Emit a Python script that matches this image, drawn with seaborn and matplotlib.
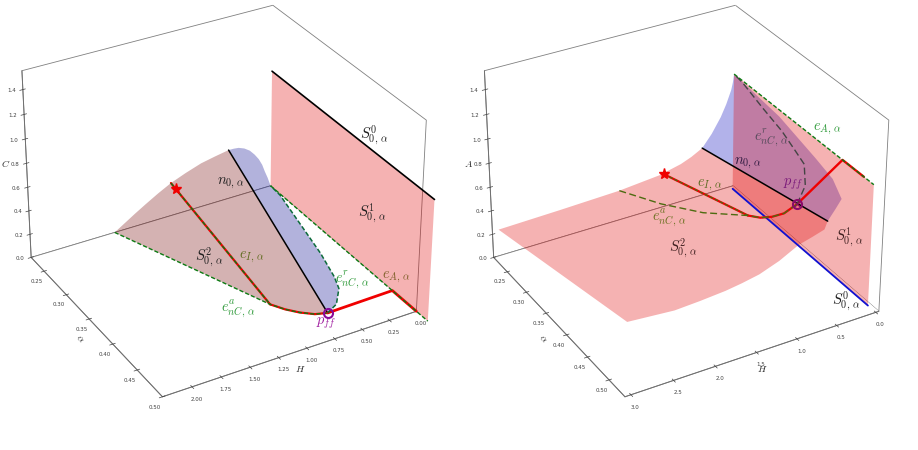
import matplotlib
matplotlib.use("Agg")
import matplotlib.pyplot as plt
from mpl_toolkits.mplot3d.art3d import Poly3DCollection
import numpy as np
import seaborn as sns

sns.set_theme(style="white")
plt.rcParams["mathtext.fontset"] = "cm"
plt.rcParams["axes.unicode_minus"] = False

# Limits and tick values of the two phase-space boxes
left_H_lim = (0.0, 2.25)
left_alpha_lim = (0.22, 0.50)
right_H_lim = (-0.04, 3.07)
right_alpha_lim = (0.214, 0.536)
vert_lim = (0.0, 1.55)
left_H_ticks = [0, 0.25, 0.5, 0.75, 1.0, 1.25, 1.5, 1.75, 2.0]
right_H_ticks = [0, 0.5, 1.0, 1.5, 2.0, 2.5, 3.0]
alpha_ticks = [0.25, 0.30, 0.35, 0.40, 0.45, 0.50]
vert_ticks = [0, 0.2, 0.4, 0.6, 0.8, 1.0, 1.2, 1.4]

alpha_lo = 0.22
alpha_hi = 0.52

# (H, alpha, C) curves of the critical manifold
l_top_H = [1.49, 1.40, 1.30, 1.196, 1.08, 0.96, 0.82, 0.674, 0.54, 0.412]
l_top_C = [0, 0.052, 0.11, 0.167, 0.228, 0.285, 0.335, 0.38, 0.405, 0.426]
l_fold_H = [0.412, 0.36, 0.315, 0.26, 0.207, 0.16, 0.119, 0.085, 0.059, 0.03, 0]
l_fold_C = [0.426, 0.425, 0.42, 0.40, 0.367, 0.32, 0.269, 0.21, 0.145, 0.08, 0]
l_ea_H = [1.49, 0.934, 0.869, 0.794, 0.704, 0.609]
l_ea_alpha = [0.22, 0.417, 0.432, 0.444, 0.454, 0.4585]
l_er_H = [0.609, 0.484, 0.348, 0.288, 0.199, 0.109, 0.01, 0]
l_er_alpha = [0.4585, 0.4496, 0.427, 0.406, 0.362, 0.305, 0.242, 0.22]
l_eI_H = [0.96, 0.934]
l_eI_alpha = [0.22, 0.417]
l_eI_C = [0.285, 0]
l_star = [0.956, 0.23, 0.27]
l_pff = [0.609, 0.4585, 0]
l_hit_alpha = 0.457
l_end_alpha = 0.50

# (H, alpha, A) curves of the critical manifold
r_top_H = [3.02, 2.26, 1.5, 0.976, 0.697, 0.56, 0.415]
r_top_A = [0.25, 0.263, 0.28, 0.312, 0.355, 0.39, 0.44]
r_low_H = [0.6, 0.75, 0.917, 1.15, 1.39, 1.6, 1.795, 2.1, 2.4, 2.95]
r_low_A = [0.76, 0.73, 0.70, 0.62, 0.562, 0.535, 0.516, 0.50, 0.49, 0.52]
r_n_end = [0.564, 0.52, 0.82]
r_blue_H = [0.415, 0.29, 0.171, 0.10, 0.036, 0.015, 0, 0.044, 0.113, 0.20, 0.40, 0.47, 0.564]
r_blue_alpha = [0.22, 0.22, 0.22, 0.22, 0.22, 0.22, 0.22, 0.33, 0.42, 0.47, 0.52, 0.52, 0.52]
r_blue_A = [0.44, 0.54, 0.663, 0.76, 0.87, 0.93, 1.0, 0.975, 0.92, 0.925, 0.965, 0.90, 0.82]
r_ea_H = [1.5, 1.307, 1.123, 0.937, 0.869, 0.794, 0.704, 0.56]
r_ea_alpha = [0.22, 0.285, 0.35, 0.417, 0.432, 0.444, 0.454, 0.457]
r_ea_A = [0.28, 0.339, 0.44, 0.60, 0.618, 0.65, 0.693, 0.75]
r_er_H = [0.56, 0.42, 0.33, 0.288, 0.199, 0.109, 0.01, 0]
r_er_alpha = [0.457, 0.45, 0.432, 0.406, 0.362, 0.305, 0.242, 0.22]
r_er_A = [0.75, 0.85, 0.95, 0.97, 0.98, 0.98, 0.99, 1.0]
r_eI_H = [0.97, 0.937]
r_eI_alpha = [0.23, 0.417]
r_eI_A = [0.35, 0.60]
r_pff = [0.56, 0.457, 0.75]

PINK = (225 / 255, 0, 0, 0.30)
BROWN = (115 / 255, 0, 0, 0.30)
BLUE_L = (0, 0, 140 / 255, 0.30)
BLUE_R = (0, 0, 188 / 255, 0.30)
RED = sns.color_palette(["#f00000"])[0]
GREEN = "#0c7a12"
W, H_PX = 918, 450
SIDE = 540
SHORT = (0, (3, 1.5))
LONG = (0, (5, 2.5))


def panel_rect(cx, cy):
    return [(cx - SIDE / 2) / W, 1 - (cy + SIDE / 2) / H_PX, SIDE / W, SIDE / H_PX]


def setup(rect, xlim, ylim, xticks, xfmt, zname):
    ax = fig.add_axes(rect, projection="3d")
    ax.computed_zorder = False
    ax.patch.set_alpha(0)
    ax.set_proj_type("persp", focal_length=FOCAL)
    ax.view_init(elev=ELEV, azim=AZIM)
    ax.set_box_aspect((4.1, 4, 3.1), zoom=ZOOM)
    ax.set_xlim(xlim)
    ax.set_ylim(ylim)
    ax.set_zlim(vert_lim)
    ax.set_xticks(xticks, [xfmt % v for v in xticks])
    ax.set_yticks(alpha_ticks, ["%.2f" % v for v in alpha_ticks])
    ax.set_zticks(vert_ticks, ["%.1f" % v for v in vert_ticks])
    ax.grid(False)
    for axis in (ax.xaxis, ax.yaxis, ax.zaxis):
        axis.set_pane_color((1, 1, 1, 1))
        axis.pane.set_edgecolor((0.5, 0.5, 0.5, 0.42))
        axis.pane.set_linewidth(0.6)
        axis.line.set_color("#707070")
        axis.line.set_linewidth(0.7)
        axis._axinfo["tick"]["inward_factor"] = 0.15
        axis._axinfo["tick"]["outward_factor"] = 0.12
        axis._axinfo["tick"]["linewidth"] = {True: 0.5, False: 0.5}
        axis._axinfo["tick"]["color"] = "#505050"
    ax.tick_params(labelsize=4, pad=-2, colors="#404040")
    ax.zaxis.set_ticks_position("lower")
    ax.zaxis.set_label_position("lower")
    ax.zaxis.set_rotate_label(False)
    ax.set_xlabel("$H$", fontsize=7, labelpad=-11)
    ax.set_ylabel(r"$\alpha$", fontsize=7, labelpad=-10)
    ax.set_zlabel(zname, fontsize=7, labelpad=-10, rotation=0)
    return ax


def poly(ax, H, a, z, color, order):
    ax.add_collection3d(Poly3DCollection([list(zip(H, a, z))], facecolors=[color],
                                         edgecolors="none", zorder=order))


def label(x, y, s, color="#202020", size=10.5):
    fig.text(x / W, 1 - y / H_PX, s, color=color, fontsize=size, ha="center", va="center", zorder=20)


ELEV, AZIM, ZOOM, FOCAL = 31, 60, 0.832, 0.8
fig = plt.figure(figsize=(W / 100, H_PX / 100), dpi=100, facecolor="white")

# ---- left panel: (H, alpha, C) ----
ax = setup(panel_rect(213, 199), left_H_lim, left_alpha_lim, left_H_ticks, "%.2f", "$C$")
surf_H = l_top_H + l_ea_H[::-1]
surf_a = [alpha_lo] * len(l_top_H) + l_ea_alpha[::-1]
surf_z = l_top_C + [0] * len(l_ea_H)
poly(ax, surf_H, surf_a, surf_z, BROWN, 2)
blue_H = l_fold_H + l_er_H[::-1]
blue_a = [alpha_lo] * len(l_fold_H) + l_er_alpha[::-1]
blue_z = l_fold_C + [0] * len(l_er_H)
poly(ax, blue_H, blue_a, blue_z, BLUE_L, 3)
poly(ax, [0, 0, 0, 0], [alpha_lo, alpha_hi, alpha_hi, alpha_lo], [0, 0, 1, 1], PINK, 4)

ax.plot([0, 0], [alpha_lo, alpha_hi], [1, 1], color="black", lw=1.2, zorder=5)
ax.plot([l_top_H[-1], l_pff[0]], [alpha_lo, l_pff[1]], [l_top_C[-1], 0], color="black", lw=1.1, zorder=5)
ax.plot(l_ea_H[1:], l_ea_alpha[1:], [0] * 5, color=RED, lw=1.6, zorder=5)
ax.plot(l_eI_H, l_eI_alpha, l_eI_C, color=RED, lw=1.6, zorder=5)
ax.plot([l_pff[0], 0, 0], [l_pff[1], l_hit_alpha, l_end_alpha], [0, 0, 0], color=RED, lw=2, zorder=5)
ax.plot(l_ea_H, l_ea_alpha, [0] * 6, color=GREEN, lw=1.0, ls=SHORT, zorder=6)
ax.plot(l_eI_H, l_eI_alpha, l_eI_C, color=GREEN, lw=1.0, ls=SHORT, zorder=6)
ax.plot(l_er_H, l_er_alpha, [0] * 8, color="#0b6b3a", lw=1.1, ls=SHORT, zorder=6)
ax.plot([0, 0], [alpha_lo, alpha_hi], [0, 0], color=GREEN, lw=1.0, ls=SHORT, zorder=6)
ax.plot(*[[v] for v in l_star], marker="*", ms=8, color=RED, mec=RED, zorder=7)
ax.plot(*[[v] for v in l_pff], marker="o", ms=6.5, mfc="none", mec="#8a0a9a", mew=1.5, zorder=7)

label(374, 135, r"$S^0_{0,\,\alpha}$")
label(372, 213, r"$S^1_{0,\,\alpha}$")
label(231, 183, r"$n_{0,\,\alpha}$")
label(209, 257, r"$S^2_{0,\,\alpha}$")
label(252, 257, r"$e_{I,\,\alpha}$", "#5f6b1e")
label(352, 280, r"$e^r_{nC,\,\alpha}$", "#2f9a3a")
label(396, 277, r"$e_{A,\,\alpha}$", "#80602a")
label(238, 309, r"$e^a_{nC,\,\alpha}$", "#2f9a3a")
label(326, 323, r"$p_{ff}$", "#a020a0")

# ---- right panel: (H, alpha, A) ----
ax = setup(panel_rect(675.5, 199), right_H_lim, right_alpha_lim, right_H_ticks, "%.1f", "$A$")
surf_H = r_top_H + [r_n_end[0]] + r_low_H
surf_a = [alpha_lo] * len(r_top_H) + [alpha_hi] * (len(r_low_H) + 1)
surf_z = r_top_A + [r_n_end[2]] + r_low_A
poly(ax, r_blue_H, r_blue_alpha, r_blue_A, BLUE_R, 2)
poly(ax, surf_H, surf_a, surf_z, PINK, 3)
poly(ax, [0, 0, 0, 0], [alpha_lo, alpha_hi, alpha_hi, alpha_lo], [0, 0, 1, 1], PINK, 4)

ax.plot([0, 0], [alpha_lo, alpha_hi], [0, 0], color="#1010d0", lw=1.3, zorder=5)
ax.plot([r_top_H[-1], r_n_end[0]], [alpha_lo, r_n_end[1]], [r_top_A[-1], r_n_end[2]], color="black", lw=1.1, zorder=5)
ax.plot(r_ea_H[3:], r_ea_alpha[3:], r_ea_A[3:], color=RED, lw=1.6, zorder=5)
ax.plot(r_eI_H, r_eI_alpha, r_eI_A, color=RED, lw=1.6, zorder=5)
ax.plot([r_pff[0], 0, 0], [r_pff[1], r_pff[1], 0.50], [r_pff[2], 1, 1], color=RED, lw=1.7, zorder=5)
ax.plot(r_ea_H, r_ea_alpha, r_ea_A, color="#4d6b10", lw=1.0, ls=LONG, zorder=6)
ax.plot(r_eI_H, r_eI_alpha, r_eI_A, color="#4d6b10", lw=0.9, ls=SHORT, zorder=6)
ax.plot(r_er_H, r_er_alpha, r_er_A, color="#444444", lw=1.0, ls=LONG, zorder=6)
ax.plot([0, 0], [alpha_lo, alpha_hi], [1, 1], color=GREEN, lw=1.0, ls=SHORT, zorder=6)
ax.plot([r_eI_H[0]], [r_eI_alpha[0]], [r_eI_A[0]], marker="*", ms=8, color=RED, mec=RED, zorder=7)
ax.plot(*[[v] for v in r_pff], marker="o", ms=6.5, mfc="none", mec="#8a0a6a", mew=1.5, zorder=7)
ax.plot(*[[v] for v in r_pff], marker="x", ms=4, color="#8a0a6a", mew=0.7, zorder=7)

label(846, 301, r"$S^0_{0,\,\alpha}$")
label(849, 237, r"$S^1_{0,\,\alpha}$", "#402020")
label(683, 248, r"$S^2_{0,\,\alpha}$", "#402020")
label(748, 163, r"$n_{0,\,\alpha}$", "#301a40")
label(710, 185, r"$e_{I,\,\alpha}$", "#5a6a20")
label(669, 218, r"$e^a_{nC,\,\alpha}$", "#6b7020")
label(771, 138, r"$e^r_{nC,\,\alpha}$", "#554a5a")
label(793, 184, r"$p_{ff}$", "#7a1a7a")
label(827, 129, r"$e_{A,\,\alpha}$", "#2f9a3a")

fig.savefig("out.png", dpi=100)
